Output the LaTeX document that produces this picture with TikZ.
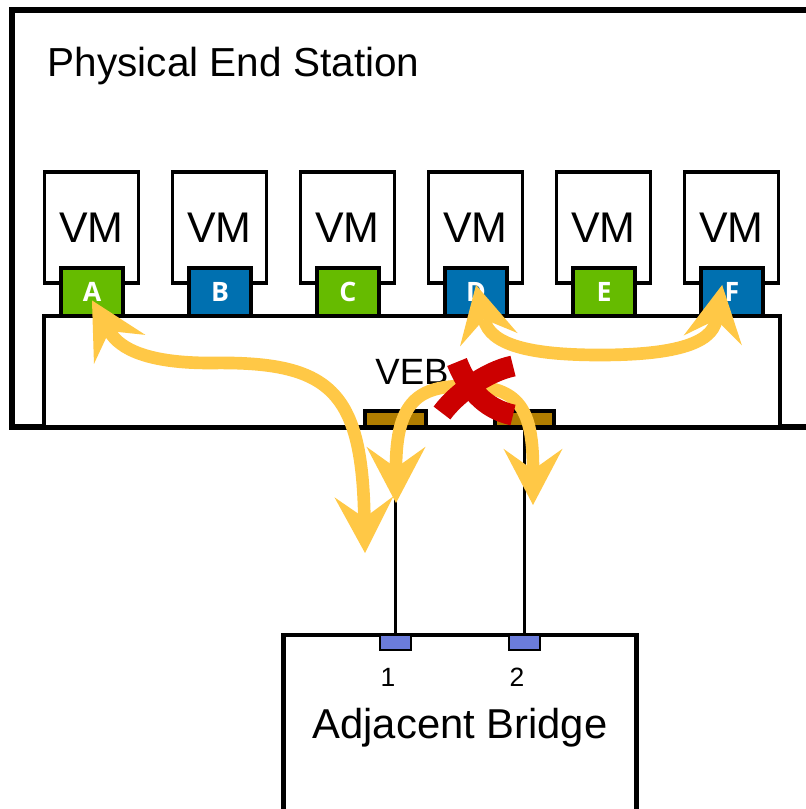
\documentclass[tikz,border=0pt]{standalone}
\usepackage{fontspec}
\setmainfont{Liberation Sans}
\newfontfamily\portfont{Open Sans}
\usetikzlibrary{arrows.meta}
\definecolor{vmgreen}{RGB}{102,187,0}
\definecolor{vmblue}{RGB}{0,112,176}
\definecolor{flowyellow}{RGB}{255,200,70}
\definecolor{blockred}{RGB}{204,0,0}
\definecolor{upbrown}{RGB}{176,125,0}
\definecolor{bportblue}{RGB}{107,124,219}
\tikzset{
  box/.style={rectangle, draw=black, fill=white, inner sep=0pt, outer sep=0pt},
  vm/.style={box, line width=2.8pt, minimum width=2.35cm, minimum height=2.775cm,
    font=\fontsize{30.5}{31}\selectfont},
  vport/.style={box, line width=2.8pt, minimum width=1.55cm, minimum height=1.2cm,
    text=white, font=\portfont\bfseries\fontsize{19}{19}\selectfont},
  uplink/.style={box, fill=upbrown, line width=2.8pt, minimum height=0.4cm},
  bport/.style={box, fill=bportblue, line width=2.1pt, minimum width=0.775cm,
    minimum height=0.375cm},
  link/.style={line width=2.1pt},
  flow/.style={line width=9pt, draw=flowyellow, {Stealth[length=40pt, width=42pt, inset=15pt, line width=0pt]}-{Stealth[length=40pt, width=42pt, inset=15pt, line width=0pt]}},
  cross/.style={line width=15pt, draw=blockred}
}
\begin{document}
\begin{tikzpicture}[x=0.025cm, y=-0.025cm]
  \useasboundingbox (0,0) rectangle (805,809);

  % physical end station
  \node[box, line width=4.25pt, minimum width=20.45cm, minimum height=10.425cm]
    (station) at (421,218.5) {};
  \node[anchor=base west, font=\fontsize{28.8}{30}\selectfont] (station_label)
    at (43,76) {Physical End Station};

  % virtual machines with their ports
  \foreach \key/\lbl/\col [count=\i from 0] in
      {a/A/vmgreen, b/B/vmblue, c/C/vmgreen, d/D/vmblue, e/E/vmgreen, f/F/vmblue} {
    \node[vm] (vm_\key) at ({91.5+128*\i},227.5) {VM};
    \node[vport, fill=\col] (port_\key) at ({92+128*\i},292) {\lbl};
  }

  % VEB and its uplinks
  \node[box, line width=2.8pt, minimum width=18.375cm, minimum height=2.775cm,
        font=\fontsize{26}{28}\selectfont] (veb) at (412,371.5) {VEB};
  \node[uplink, minimum width=1.525cm] (uplink_1) at (395.5,419) {};
  \node[uplink, minimum width=1.475cm] (uplink_2) at (524.5,419) {};

  % adjacent bridge
  \node[box, line width=3.5pt, minimum width=8.8cm, minimum height=5cm]
    (bridge) at (460,735) {};
  \node[anchor=base, font=\fontsize{29.7}{30}\selectfont] (bridge_label)
    at (460,738) {Adjacent Bridge};
  \node[bport] (bport_1) at (395.5,642.5) {};
  \node[bport] (bport_2) at (524.5,642.5) {};
  \node[anchor=base, font=\fontsize{18.8}{20}\selectfont] (num_1) at (388,686) {1};
  \node[anchor=base, font=\fontsize{18.8}{20}\selectfont] (num_2) at (517,686) {2};

  \draw[link] (uplink_1.south) -- (bport_1.north);
  \draw[link] (uplink_2.south) -- (bport_2.north);

  % traffic flows
  \coordinate (out_a) at (365,553);
  \coordinate (hair_l) at (396,503);
  \coordinate (hair_r) at (533,505);
  \draw[flow] ([yshift=-6pt]port_a.center) .. controls (120,350) and (150,363) .. (210,363)
    .. controls (330,361) and (362,390) .. (out_a);
  \draw[flow] (hair_l) .. controls (396,400) and (420,386) .. (465,386)
    .. controls (520,386) and (533,410) .. (hair_r);
  \draw[flow] ([yshift=5pt]port_d.center) .. controls (490,345) and (530,355) .. (600,355)
    .. controls (670,355) and (712,345) .. ([shift={(-7pt,5pt)}]port_f.center);

  % blocked
  \draw[cross] (457,362) .. controls (470,395) and (490,410) .. (513,415);
  \draw[cross] (513,366) .. controls (485,372) and (455,395) .. (442,413);
\end{tikzpicture}
\end{document}
